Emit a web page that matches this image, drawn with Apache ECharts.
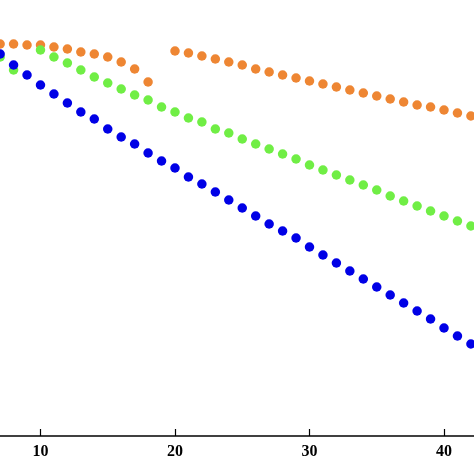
<!DOCTYPE html>
<html>
<head>
<meta charset="utf-8">
<script src="https://cdn.jsdelivr.net/npm/echarts@6/dist/echarts.min.js"></script>
<style>
  html, body { margin: 0; padding: 0; background: #fff; }
  #chart { width: 474px; height: 474px; }
</style>
</head>
<body>
<div id="chart"></div>
<script>
// x positions (one dot per integer step)
const xs = [7, 8, 9, 10, 11, 12, 13, 14, 15, 16, 17, 18, 19, 20, 21, 22, 23, 24,
  25, 26, 27, 28, 29, 30, 31, 32, 33, 34, 35, 36, 37, 38, 39, 40, 41, 42]
const xTicks = [10, 20, 30, 40]

// values (arbitrary y units, axis not shown)
const orangeVals = [3.92, 3.92, 3.91, 3.91, 3.89, 3.87, 3.84, 3.82, 3.79, 3.74, 3.67, 3.54,
  null, 3.85, 3.83, 3.80, 3.77, 3.74, 3.71, 3.67, 3.64, 3.61, 3.58, 3.55, 3.52, 3.49,
  3.46, 3.43, 3.40, 3.37, 3.34, 3.31, 3.29, 3.26, 3.23, 3.20]
const greenVals = [3.79, 3.66, null, 3.86, 3.79, 3.73, 3.66, 3.59, 3.53, 3.47, 3.41, 3.36,
  3.29, 3.24, 3.18, 3.14, 3.07, 3.03, 2.97, 2.92, 2.87, 2.82, 2.77, 2.71, 2.66, 2.61,
  2.56, 2.51, 2.46, 2.40, 2.35, 2.30, 2.25, 2.20, 2.15, 2.10]
const blueVals = [3.82, 3.71, 3.61, 3.51, 3.42, 3.33, 3.24, 3.17, 3.07, 2.99, 2.92, 2.83,
  2.75, 2.68, 2.59, 2.52, 2.44, 2.36, 2.28, 2.20, 2.12, 2.05, 1.98, 1.89, 1.81, 1.73,
  1.65, 1.57, 1.49, 1.41, 1.33, 1.25, 1.17, 1.08, 1.00, 0.92]

const toPoints = vals => xs.map((x, i) => [x, vals[i]]).filter(p => p[1] !== null)

const dotSeries = (name, vals, color) => ({
  name,
  type: 'scatter',
  data: toPoints(vals),
  symbolSize: 9.5,
  clip: false,
  itemStyle: { color, opacity: 1 },
  emphasis: { disabled: true }
})

const chart = echarts.init(document.getElementById('chart'))
chart.setOption({
  animation: false,
  backgroundColor: '#fff',
  grid: { left: 0, right: 0, top: 0, bottom: 38 },
  xAxis: {
    type: 'value',
    min: 6.99,
    max: 42.23,
    splitLine: { show: false },
    axisLine: { show: true, onZero: false, lineStyle: { color: '#000', width: 1.5 } },
    axisTick: { show: true, inside: true, length: 7, customValues: xTicks, lineStyle: { color: '#000', width: 1.2 } },
    axisLabel: {
      customValues: xTicks,
      color: '#000',
      fontFamily: 'Liberation Serif',
      fontWeight: 'bold',
      fontSize: 16,
      margin: 8
    }
  },
  yAxis: {
    type: 'value',
    min: 0,
    max: 4.36,
    show: false
  },
  series: [
    dotSeries('orange', orangeVals, '#EE8633'),
    dotSeries('green', greenVals, '#70EE45'),
    dotSeries('blue', blueVals, '#0000E6')
  ]
})
</script>
</body>
</html>
